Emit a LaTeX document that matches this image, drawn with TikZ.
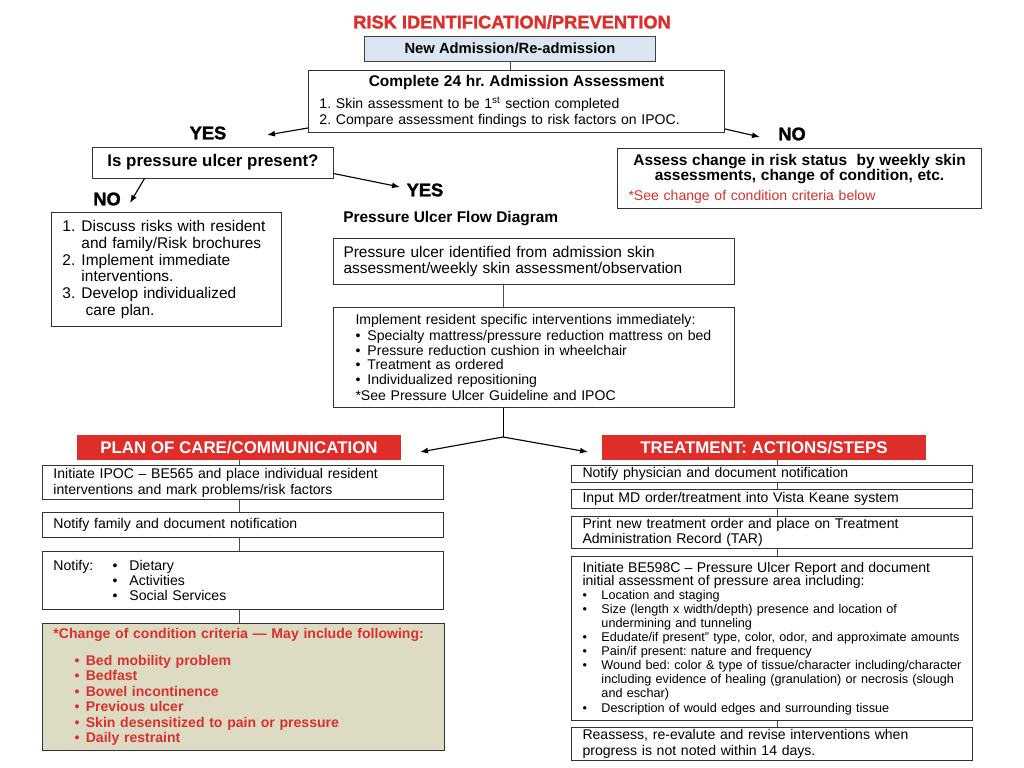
\documentclass[tikz,border=0pt]{standalone}
\usepackage{fontspec}
\setmainfont{Liberation Sans}
\newfontfamily\heavyfont{Liberation Sans Bold}[FakeBold=1.5]
\usetikzlibrary{arrows.meta}

\definecolor{headred}{HTML}{DF2E2A}
\definecolor{alertred}{HTML}{D8312D}
\definecolor{admblue}{HTML}{DCE6F2}
\definecolor{criteriabg}{HTML}{DEDBC4}

\newcommand{\bul}[1]{\makebox[#1][l]{\textbullet}}

\begin{document}
\frenchspacing
\begin{tikzpicture}[
    x=0.025cm,
    y=-0.025cm,
    box/.style={
        draw=black!80,
        line width=0.7pt,
        fill=white,
        anchor=north west,
        align=left,
        inner xsep=0.275cm,
        inner ysep=1pt,
        font=\fontsize{10}{11.5}\selectfont
    },
    header/.style={
        fill=headred,
        text=white,
        align=center,
        minimum width=8.1cm,
        minimum height=0.625cm,
        inner sep=0pt,
        font=\bfseries\fontsize{12}{14}\selectfont
    },
    answer/.style={
        font=\heavyfont\fontsize{13}{15}\selectfont
    },
    arrow/.style={-{Latex[length=2mm]},thick},
    link/.style={draw=black!70,line width=0.6pt}
]
\useasboundingbox (0,0) rectangle (1024,768);

\node[font=\heavyfont\fontsize{13}{15}\selectfont, text=headred] (title) at (512,22)
{RISK IDENTIFICATION/PREVENTION};

\node[draw=black!75, line width=0.7pt, fill=admblue, minimum width=7.25cm,
      minimum height=0.625cm, inner sep=0pt,
      font=\bfseries\fontsize{10.5}{12}\selectfont] (newadm) at (510,48.5)
{New Admission/Re-admission};

\node[box, text width=9.85cm, minimum height=1.55cm, font=\fontsize{10}{12}\selectfont] (assess) at (308,70)
{\makebox[\hsize]{\bfseries\fontsize{11}{13}\selectfont Complete 24 hr. Admission Assessment}\\[3.5pt]
1. Skin assessment to be 1\textsuperscript{st} section completed\\
2. Compare assessment findings to risk factors on IPOC.};

\node[answer] (yesleft) at (208,133) {YES};
\node[answer] (noright) at (792,134) {NO};

\node[box, anchor=center, align=center, minimum width=6cm, minimum height=0.775cm,
      font=\bfseries\fontsize{12}{14}\selectfont] (ulcerq) at (213,162.5)
{Is pressure ulcer present?};

\node[box, text width=8.55cm, minimum height=1.5cm, font=\fontsize{10}{11}\selectfont] (riskbox) at (617,148)
{\makebox[\hsize]{\bfseries\fontsize{11}{11}\selectfont Assess change in risk status\ \ by weekly skin}\\
\makebox[\hsize]{\bfseries\fontsize{11}{11}\selectfont assessments, change of condition, etc.}\\[3pt]
\textcolor{alertred}{*See change of condition criteria below}};

\node[answer] (yesmid) at (425,190) {YES};
\node[answer] (noleft) at (107,199) {NO};

\node[box, text width=5.2cm, minimum height=2.85cm, font=\fontsize{11}{12}\selectfont] (nobox) at (51,212)
{\makebox[13.5pt][l]{1.}Discuss risks with resident\\
\hspace*{13.5pt}and family/Risk brochures\\
\makebox[13.5pt][l]{2.}Implement immediate\\
\hspace*{13.5pt}interventions.\\
\makebox[13.5pt][l]{3.}Develop individualized\\
\hspace*{16.5pt}care plan.};

\node[font=\bfseries\fontsize{11}{13}\selectfont, anchor=west, inner sep=0pt] (flowtitle) at (343,219)
{Pressure Ulcer Flow Diagram};

\node[box, text width=9.525cm, inner xsep=0.25cm, minimum height=1.15cm,
      font=\fontsize{11}{12}\selectfont] (identified) at (333,238)
{Pressure ulcer identified from admission skin\\
assessment/weekly skin assessment/observation};

\node[box, text width=8.925cm, inner xsep=0.55cm, minimum height=2.5cm,
      font=\fontsize{10}{11}\selectfont] (interv) at (333,307)
{Implement resident specific interventions immediately:\\
\bul{8.5pt}Specialty mattress/pressure reduction mattress on bed\\
\bul{8.5pt}Pressure reduction cushion in wheelchair\\[-1.5pt]
\bul{8.5pt}Treatment as ordered\\
\bul{8.5pt}Individualized repositioning\\
{}*See Pressure Ulcer Guideline and IPOC};

\node[header] (planhdr) at (239,447.5) {PLAN OF CARE/COMMUNICATION};
\node[header] (treathdr) at (764,447.5) {TREATMENT: ACTIONS/STEPS};

% plan of care column
\node[box, text width=9.475cm, minimum height=0.85cm] (ipoc) at (42,465)
{Initiate IPOC -- BE565 and place individual resident\\
interventions and mark problems/risk factors};

\node[box, text width=9.475cm, minimum height=0.625cm] (family) at (42,512)
{Notify family and document notification};

\node[box, text width=9.475cm, minimum height=1.45cm, font=\fontsize{10}{10.7}\selectfont] (notify) at (42,551)
{\makebox[42pt][l]{Notify:}\bul{12pt}Dietary\\
\hspace*{42pt}\bul{12pt}Activities\\
\hspace*{42pt}\bul{12pt}Social Services};

\node[box, fill=criteriabg, text width=9.5cm, minimum height=3.175cm, text=alertred,
      font=\bfseries\fontsize{10}{11}\selectfont] (criteria) at (42,623)
{*Change of condition criteria --- May include following:\\[8pt]
\hspace*{15pt}\bul{8pt}Bed mobility problem\\
\hspace*{15pt}\bul{8pt}Bedfast\\
\hspace*{15pt}\bul{8pt}Bowel incontinence\\
\hspace*{15pt}\bul{8pt}Previous ulcer\\
\hspace*{15pt}\bul{8pt}Skin desensitized to pain or pressure\\
\hspace*{15pt}\bul{8pt}Daily restraint};

% treatment column
\node[box, text width=9.475cm, minimum height=0.425cm] (physician) at (571,465)
{Notify physician and document notification};

\node[box, text width=9.475cm, minimum height=0.475cm] (mdorder) at (571,489)
{Input MD order/treatment into Vista Keane system};

\node[box, text width=9.475cm, minimum height=0.8cm, font=\fontsize{10}{10.7}\selectfont] (printorder) at (571,516)
{Print new treatment order and place on Treatment\\
Administration Record (TAR)};

\node[box, text width=9.475cm, minimum height=4.1cm, font=\fontsize{9}{10}\selectfont] (be598) at (571,556)
{{\fontsize{10}{10}\selectfont Initiate BE598C -- Pressure Ulcer Report and document}\\[-0.8pt]
{\fontsize{10}{10}\selectfont initial assessment of pressure area including:}\\
\bul{13.5pt}Location and staging\\
\bul{13.5pt}Size (length x width/depth) presence and location of\\
\hspace*{13.5pt}undermining and tunneling\\
\bul{13.5pt}\mbox{Edudate/if present'' type, color, odor, and approximate amounts}\\
\bul{13.5pt}Pain/if present: nature and frequency\\
\bul{13.5pt}\mbox{Wound bed: color \& type of tissue/character including/character}\\
\hspace*{13.5pt}including evidence of healing (granulation) or necrosis (slough\\
\hspace*{13.5pt}and eschar)\\
\bul{13.5pt}Description of would edges and surrounding tissue};

\node[box, text width=9.475cm, minimum height=0.825cm, font=\fontsize{10}{11.4}\selectfont] (reassess) at (571,727)
{Reassess, re-evalute and revise interventions when\\
progress is not noted within 14 days.};

% arrow ends and junctions
\coordinate (yesleftend) at (267,135);
\coordinate (norightend) at (760,137);
\coordinate (yesmidend) at (400,187);
\coordinate (noleftend) at (130,203);
\coordinate (fork) at (503,437);
\coordinate (planend) at (420,452);
\coordinate (treatend) at (588,452);
\coordinate (rcol) at ([xshift=0.325cm]treathdr.south);

\draw[link] (newadm.south) -- (newadm.south |- assess.north);

\draw[arrow] ([yshift=0.125cm]assess.south west) -- (yesleftend);
\draw[arrow] ([yshift=0.1cm]assess.south east) -- (norightend);
\draw[arrow] ([yshift=0.125cm]ulcerq.south east) -- (yesmidend);
\draw[arrow] ([xshift=1.3cm]ulcerq.south west) -- (noleftend);

\draw[link] (identified.south -| fork) -- (interv.north -| fork);
\draw (interv.south -| fork) -- (fork);
\draw[arrow] (fork) -- (planend);
\draw[arrow] (fork) -- (treatend);

\draw[link] (planhdr.south) -- (planhdr.south |- ipoc.north);
\draw[link] (ipoc.south -| planhdr.south) -- (family.north -| planhdr.south);
\draw[link] (family.south -| planhdr.south) -- (notify.north -| planhdr.south);
\draw[link] (notify.south -| planhdr.south) -- (criteria.north -| planhdr.south);

\draw[link] (rcol) -- (rcol |- physician.north);
\draw[link] (physician.south -| rcol) -- (mdorder.north -| rcol);
\draw[link] (mdorder.south -| rcol) -- (printorder.north -| rcol);
\draw[link] (printorder.south -| rcol) -- (be598.north -| rcol);
\draw[link] (be598.south -| rcol) -- (reassess.north -| rcol);

\end{tikzpicture}
\end{document}
